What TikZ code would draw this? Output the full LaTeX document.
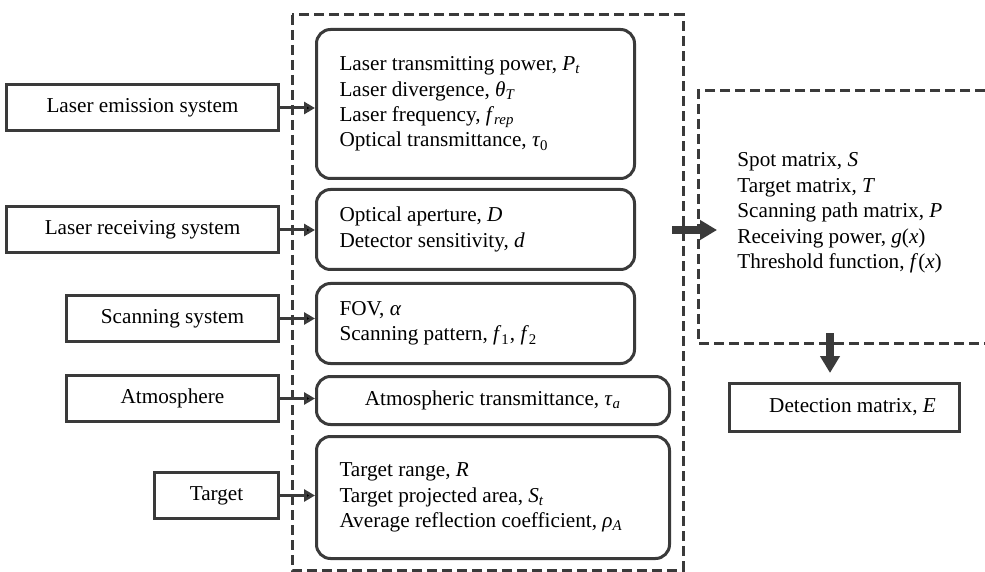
\documentclass[tikz,border=0pt]{standalone}
\usepackage{fontspec}
\setmainfont{Liberation Serif}
\usepackage{tikz}
\usetikzlibrary{positioning,arrows.meta}
\definecolor{linegray}{HTML}{3A3A3A}
\newcommand{\psym}[2]{\textit{#1}\textsubscript{#2}}

\begin{document}
\begin{tikzpicture}[
  x=0.5pt,y=-0.5pt,
  font=\fontsize{10.6}{12.7}\selectfont,
  sysbox/.style={draw=linegray,line width=1.5pt,rectangle,minimum height=23pt,anchor=east,align=center},
  parbox/.style={draw=linegray,line width=1.5pt,rounded corners=7pt,anchor=north west,inner xsep=11.5pt,align=flush left,text width=136pt},
  wideparbox/.style={parbox,text width=153.5pt},
  dashbox/.style={draw=linegray,line width=1.5pt,dash pattern=on 5pt off 2.5pt},
  bigarrow/.style={draw=linegray,line width=4pt,-{Triangle[length=8.5pt,width=9.5pt]}}
]
\useasboundingbox (0,0) rectangle (985,572);

% dashed frames
\draw[dashbox] (292,15) rectangle (683,570);
\draw[dashbox] (985,91) -- (698,91) -- (698,343) -- (985,343);

% parameter boxes
\node[parbox,minimum height=74.5pt] (pemit) at (315,28) {Laser transmitting power, \psym{P}{\textit{t}}\\ Laser divergence, \psym{θ}{\textit{T}}\\ Laser frequency, \psym{f}{\textit{rep}}\\ Optical transmittance, \psym{τ}{0}};
\node[parbox,minimum height=40pt] (precv) at (315,188) {Optical aperture, \textit{D}\\ Detector sensitivity, \textit{d}};
\node[parbox,minimum height=40pt] (pscan) at (315,282) {FOV, \textit{α}\\ Scanning pattern, \psym{f}{1}, \psym{f}{2}};
\node[wideparbox,align=flush center,minimum height=24pt] (patmo) at (315,375) {Atmospheric transmittance, \psym{τ}{\textit{a}}};
\node[wideparbox,minimum height=61pt] (ptarg) at (315,435) {Target range, \textit{R}\\ Target projected area, \psym{S}{\textit{t}}\\ Average reflection coefficient, \psym{ρ}{\textit{A}}};

% systems
\node[sysbox,minimum width=136pt] (semit) at (280,108) {Laser emission system};
\node[sysbox,minimum width=136pt] (srecv) at (280,230) {Laser receiving system};
\node[sysbox,minimum width=106pt] (sscan) at (280,318.5) {Scanning system};
\node[sysbox,minimum width=106pt] (satmo) at (280,398.5) {Atmosphere};
\node[sysbox,minimum width=62pt] (starg) at (280,495.5) {Target};

% outputs
\node[anchor=west,align=left,inner sep=0pt] (outs) at (737,213) {Spot matrix, \textit{S}\\ Target matrix, \textit{T}\\ Scanning path matrix, \textit{P}\\ Receiving power, \textit{g}(\textit{x})\\ Threshold function, \textit{f}(\textit{x})};
\node[sysbox,minimum width=115pt,minimum height=24pt,anchor=north west] (detm) at (728,382) {\hspace{8pt}Detection matrix, \textit{E}};

\coordinate (a1) at (672,230);
\coordinate (a2) at (717,230);
\coordinate (a3) at (830,333);

\path[draw=linegray,line width=1.5pt]
(semit) edge[-{Triangle[length=5.5pt,width=6pt]}] (semit.east -| pemit.west)
(srecv) edge[-{Triangle[length=5.5pt,width=6pt]}] (srecv.east -| precv.west)
(sscan) edge[-{Triangle[length=5.5pt,width=6pt]}] (sscan.east -| pscan.west)
(satmo) edge[-{Triangle[length=5.5pt,width=6pt]}] (satmo.east -| patmo.west)
(starg) edge[-{Triangle[length=5.5pt,width=6pt]}] (starg.east -| ptarg.west);

\draw[bigarrow] (a1) -- (a2);
\draw[bigarrow,shorten >=4.5pt] (a3) -- (a3 |- detm.north);
\end{tikzpicture}
\end{document}
